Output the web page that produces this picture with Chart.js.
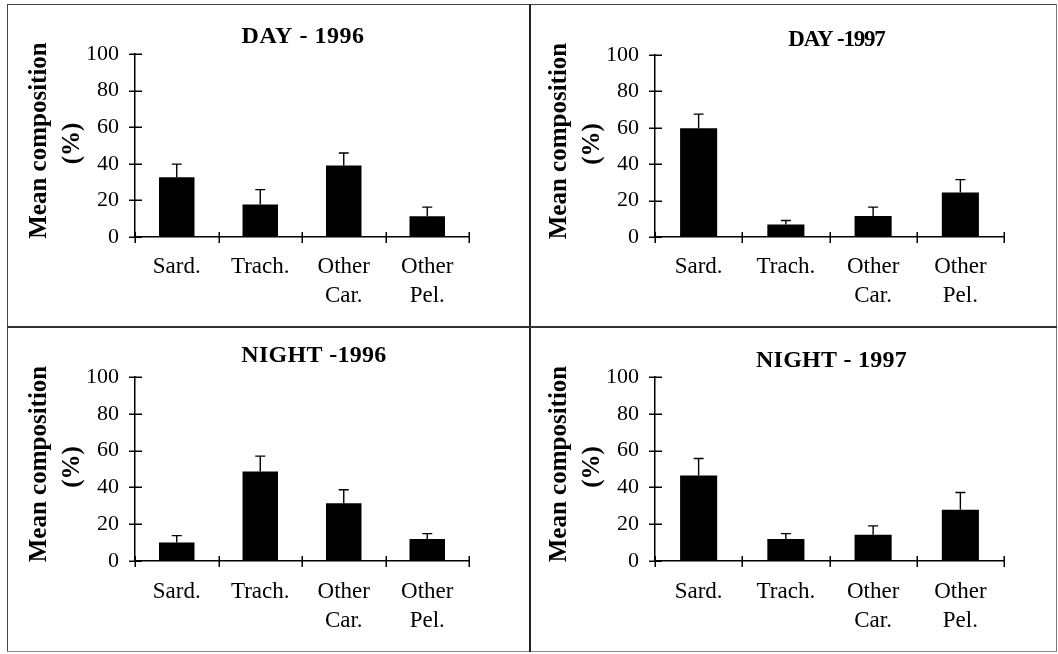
<!DOCTYPE html>
<html>
<head>
<meta charset="utf-8">
<title>Mean composition</title>
<script src="https://cdn.jsdelivr.net/npm/chart.js@4.4.1/dist/chart.umd.min.js"></script>
<style>
  html, body { margin: 0; padding: 0; background: #fff; }
  #sheet { position: relative; width: 1058px; height: 654px; overflow: hidden; background: #fff; }
  #sheet canvas { position: absolute; }
  .rule { position: absolute; background: #333; }
</style>
</head>
<body>
<div id="sheet">
  <canvas id="day1996" width="530" height="327" style="left:0;top:0"></canvas>
  <canvas id="day1997" width="528" height="327" style="left:530px;top:0"></canvas>
  <canvas id="night1996" width="530" height="327" style="left:0;top:327px"></canvas>
  <canvas id="night1997" width="528" height="327" style="left:530px;top:327px"></canvas>

  <!-- frame and panel dividers -->
  <div class="rule" style="left:7px;top:4px;width:1050px;height:1px;background:#444"></div>
  <div class="rule" style="left:7px;top:4px;width:1px;height:648px;background:#444"></div>
  <div class="rule" style="left:1056px;top:4px;width:1px;height:648px;background:#777"></div>
  <div class="rule" style="left:7px;top:651px;width:1050px;height:1px;background:#888"></div>
  <div class="rule" style="left:529px;top:4px;width:2px;height:648px;background:#222"></div>
  <div class="rule" style="left:7px;top:326px;width:1050px;height:2px;background:#333"></div>
</div>

<script>
// Prey categories (multi-line labels) and y-axis ticks
const categories = [['Sard.'], ['Trach.'], ['Other', 'Car.'], ['Other', 'Pel.']];
const yTicks = [0, 20, 40, 60, 80, 100];

// Mean composition (%) and upper error per category
const day1996Mean   = [32.7, 17.7, 39.1, 11.4];
const day1996Err    = [7.1, 8.2, 6.8, 4.9];
const day1997Mean   = [59.7, 6.9, 11.5, 24.4];
const day1997Err    = [7.8, 2.2, 4.9, 7.1];
const night1996Mean = [10.0, 48.6, 31.4, 12.0];
const night1996Err  = [3.8, 8.4, 7.3, 2.9];
const night1997Mean = [46.4, 12.0, 14.2, 27.9];
const night1997Err  = [9.3, 2.9, 4.9, 9.3];

const panelTitles = ['DAY - 1996', 'DAY -1997', 'NIGHT -1996', 'NIGHT - 1997'];
const yTitleLines = ['Mean composition', '(%)'];

const SERIF = '"Liberation Serif", "Times New Roman", Times, serif';
Chart.defaults.font.family = SERIF;
Chart.defaults.color = '#000';

// Error bars, crossing tick marks, panel title and y-axis title
const panelDecor = {
  id: 'panelDecor',
  afterDraw(chart, args, opts) {
    const ctx = chart.ctx;
    const xs = chart.scales.x, ys = chart.scales.y;
    const area = chart.chartArea;
    const ds = chart.data.datasets[0];
    const meta = chart.getDatasetMeta(0);

    ctx.save();
    ctx.strokeStyle = '#000';
    ctx.lineCap = 'butt';

    // upper error bars with caps
    ctx.lineWidth = 1.4;
    meta.data.forEach((bar, i) => {
      const top = ys.getPixelForValue(ds.data[i] + ds.errors[i]);
      ctx.beginPath();
      ctx.moveTo(bar.x, bar.y);
      ctx.lineTo(bar.x, top);
      ctx.moveTo(bar.x - 5, top);
      ctx.lineTo(bar.x + 5, top);
      ctx.stroke();
    });

    // y tick marks crossing the axis
    ctx.lineWidth = 1.5;
    ys.ticks.forEach(t => {
      const py = Math.round(ys.getPixelForValue(t.value)) + 0.25;
      ctx.beginPath();
      ctx.moveTo(area.left - 6, py);
      ctx.lineTo(area.left + 7, py);
      ctx.stroke();
    });

    // x tick marks at category boundaries
    for (let i = 0; i <= chart.data.labels.length; i++) {
      const px = Math.round(xs.getPixelForValue(i - 0.5)) + 0.25;
      ctx.beginPath();
      ctx.moveTo(px, area.bottom - 5);
      ctx.lineTo(px, area.bottom + 6);
      ctx.stroke();
    }

    // panel title
    ctx.fillStyle = '#000';
    ctx.font = 'bold ' + opts.titleSize + 'px ' + SERIF;
    ctx.textAlign = 'center';
    ctx.textBaseline = 'alphabetic';
    ctx.letterSpacing = opts.titleSpacing + 'px';
    ctx.fillText(opts.title, (area.left + area.right) / 2 + opts.titleDx, opts.titleBaseline);
    ctx.letterSpacing = '0px';

    // rotated y-axis title, two lines
    const midY = (area.top + area.bottom) / 2;
    ctx.font = 'bold 25px ' + SERIF;
    ctx.textBaseline = 'middle';
    ctx.save();
    ctx.translate(area.left - 95, midY - 5);
    ctx.rotate(-Math.PI / 2);
    ctx.fillText(yTitleLines[0], 0, 0);
    ctx.restore();
    ctx.save();
    ctx.translate(area.left - 62, midY - 2);
    ctx.rotate(-Math.PI / 2);
    ctx.fillText(yTitleLines[1], 0, 0);
    ctx.restore();

    ctx.restore();
  }
};

function makePanel(canvasId, title, means, errs, frame) {
  const cv = document.getElementById(canvasId);
  return new Chart(cv, {
    type: 'bar',
    data: {
      labels: categories,
      datasets: [{
        data: means,
        errors: errs,
        backgroundColor: '#000',
        borderWidth: 0,
        barPercentage: 0.425,
        categoryPercentage: 1.0
      }]
    },
    options: {
      responsive: false,
      animation: false,
      devicePixelRatio: 1,
      events: [],
      layout: {
        padding: { left: 0, top: frame.top, right: cv.width - frame.right, bottom: 0 }
      },
      scales: {
        x: {
          type: 'category',
          offset: true,
          grid: { display: false, drawTicks: false },
          border: { display: true, color: '#000', width: 1.5 },
          ticks: {
            font: { size: 23, lineHeight: 1.27 },
            color: '#000',
            padding: frame.labelGap,
            maxRotation: 0,
            autoSkip: false
          },
          afterFit(scale) { scale.height = cv.height - frame.bottom; }
        },
        y: {
          min: yTicks[0],
          max: yTicks[yTicks.length - 1],
          grid: { display: false, drawTicks: false },
          border: { display: true, color: '#000', width: 1.5 },
          afterBuildTicks(scale) { scale.ticks = yTicks.map(v => ({ value: v })); },
          ticks: {
            font: { size: 22 },
            color: '#000',
            padding: 16
          },
          afterFit(scale) { scale.width = frame.left; }
        }
      },
      plugins: {
        legend: { display: false },
        tooltip: { enabled: false },
        title: { display: false },
        panelDecor: {
          title: title,
          titleSize: frame.titleSize,
          titleDx: frame.titleDx,
          titleBaseline: frame.titleBaseline,
          titleSpacing: frame.titleSpacing
        }
      }
    },
    plugins: [panelDecor]
  });
}

makePanel('day1996', panelTitles[0], day1996Mean, day1996Err,
  { left: 135, right: 469, top: 54, bottom: 237, labelGap: 15, titleSize: 24, titleDx: 1, titleBaseline: 43, titleSpacing: 0.5 });
makePanel('day1997', panelTitles[1], day1997Mean, day1997Err,
  { left: 125, right: 474, top: 55, bottom: 237, labelGap: 15, titleSize: 23, titleDx: 7, titleBaseline: 46, titleSpacing: -1.2 });
makePanel('night1996', panelTitles[2], night1996Mean, night1996Err,
  { left: 135, right: 469, top: 50, bottom: 234, labelGap: 16, titleSize: 24, titleDx: 12, titleBaseline: 35, titleSpacing: 0.3 });
makePanel('night1997', panelTitles[3], night1997Mean, night1997Err,
  { left: 125, right: 474, top: 50, bottom: 234, labelGap: 16, titleSize: 24, titleDx: 2, titleBaseline: 40, titleSpacing: 0.25 });
</script>
</body>
</html>
